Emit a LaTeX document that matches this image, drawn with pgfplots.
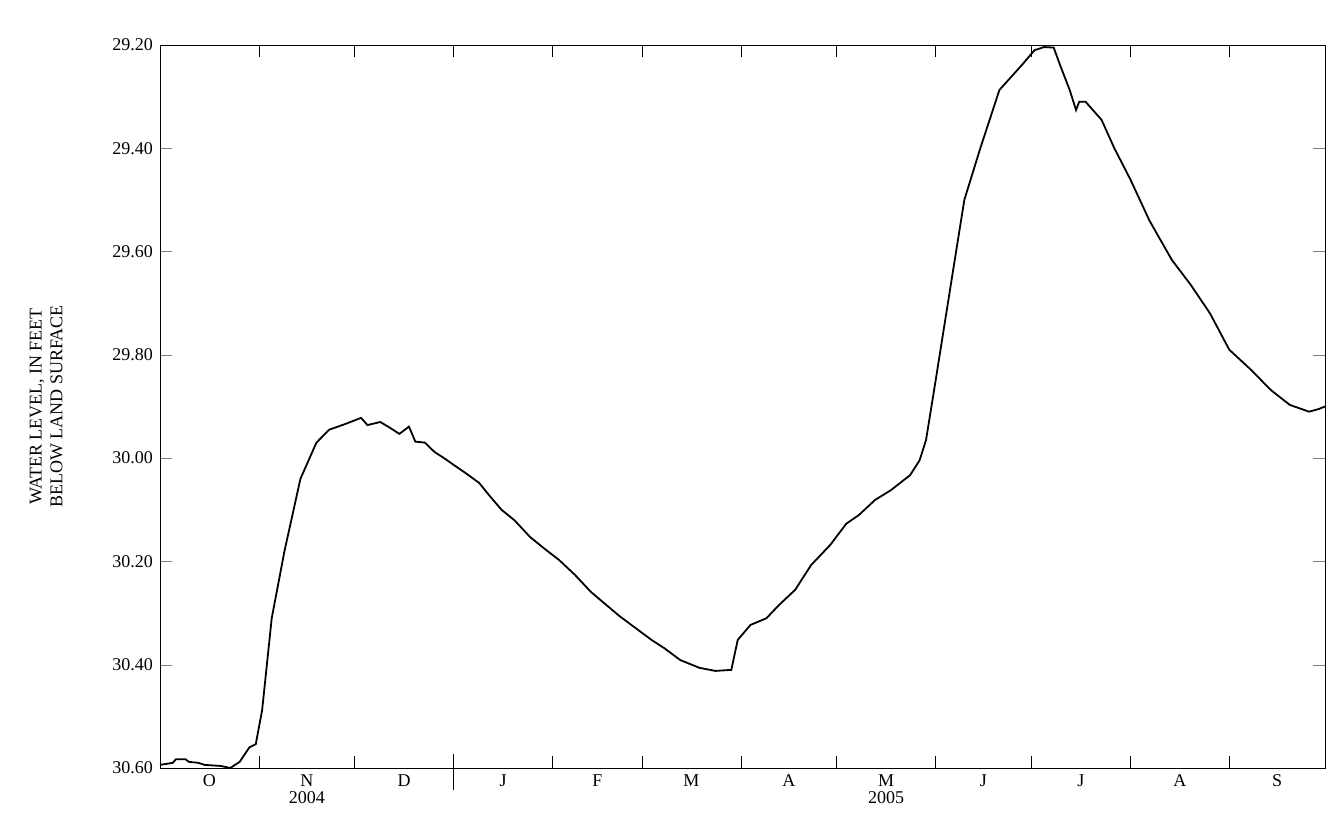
\documentclass[border=0pt]{standalone}
\usepackage{pgfplots}
\pgfplotsset{compat=1.18}
\usepackage{fontspec}
\setmainfont{Liberation Serif}
\begin{document}
\begin{tikzpicture}
\begin{axis}[scale only axis, width=582.5pt, height=361.5pt,
 xmin=0, xmax=365, ymin=29.2, ymax=30.6, y dir=reverse,
 ytick={29.2,29.4,29.6,29.8,30.0,30.2,30.4,30.6},
 /pgf/number format/fixed, /pgf/number format/fixed zerofill, /pgf/number format/precision=2,
 /pgf/number format/assume math mode=true,
 yticklabel style={font=\small},
 ylabel={\shortstack{WATER LEVEL, IN FEET\\BELOW LAND SURFACE}},
 ylabel style={font=\small, yshift=18pt},
 xtick={15.5,46,76.5,107.5,137,166.5,197,227.5,258,288.5,319.5,350},
 xticklabels={O,N,D,J,F,M,A,M,J,J,A,S},
 xticklabel style={font=\small},
 major x tick style={draw=none},
 minor xtick={31,61,92,123,151,182,212,243,273,304,335},
 minor tick length=6pt, major tick length=6pt,
 tick align=inside, ytick pos=both,
 minor x tick style={black},
 clip=false, axis line style={black,thin}]
\addplot[black, line width=0.9pt] coordinates {
(0,30.594)(4,30.59)(5,30.583)(8,30.583)(9,30.588)(12,30.590)(14,30.594)(19,30.596)(22,30.600)(25,30.588)(28,30.560)(30,30.554)(32,30.488)(35,30.31)(39,30.18)(44,30.04)(49,29.97)(53,29.945)(58,29.934)(63,29.922)(65,29.936)(69,29.930)(72,29.941)(75,29.953)(78,29.939)(80,29.968)(83,29.970)(86,29.988)(89,30.00)(92,30.013)(96,30.03)(100,30.048)(103,30.071)(107,30.10)(111,30.12)(116,30.153)(121,30.178)(125,30.197)(130,30.226)(135,30.259)(139,30.28)(144,30.306)(149,30.329)(154,30.352)(158,30.368)(163,30.391)(169,30.406)(174,30.412)(179,30.410)(181,30.352)(185,30.323)(190,30.310)(194,30.284)(199,30.255)(204,30.207)(210,30.168)(215,30.127)(219,30.110)(224,30.081)(229,30.062)(235,30.033)(238,30.004)(240,29.965)(243,29.85)(248,29.655)(252,29.50)(257,29.40)(263,29.287)(270,29.239)(274,29.21)(277,29.204)(280,29.205)(282,29.239)(285,29.287)(287,29.326)(288,29.310)(290,29.310)(295,29.345)(299,29.40)(304,29.46)(310,29.54)(317,29.616)(323,29.665)(329,29.72)(335,29.79)(342,29.83)(348,29.868)(354,29.897)(360,29.910)(363,29.905)(365,29.900)};
\coordinate (jan) at (axis cs:92,30.6);
\coordinate (y4) at (axis cs:46,30.6);
\coordinate (y5) at (axis cs:227.5,30.6);
\end{axis}
\draw ([yshift=-11pt]jan) -- ([yshift=7pt]jan);
\node[font=\small] at ([yshift=-15pt]y4) {2004};
\node[font=\small] at ([yshift=-15pt]y5) {2005};
\useasboundingbox ([shift={(-80pt,-30pt)}]current axis.south west) rectangle ([shift={(1.5pt,22.5pt)}]current axis.north east);
\end{tikzpicture}
\end{document}
